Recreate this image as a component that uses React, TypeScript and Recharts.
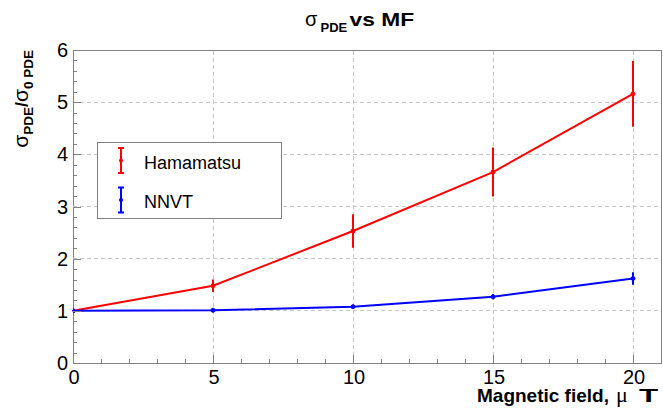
import React from 'react';
import {
  ComposedChart,
  Line,
  XAxis,
  YAxis,
  ErrorBar,
  ReferenceLine,
  ReferenceArea,
  Legend,
} from 'recharts';

// ---- data ----
const fields = [0, 5, 10, 15, 20];
const hamamatsu = [1.0, 1.48, 2.53, 3.66, 5.16];
const hamamatsuErr = [0.01, 0.12, 0.32, 0.47, 0.63];
const nnvt = [1.0, 1.01, 1.08, 1.27, 1.62];
const nnvtErr = [0.01, 0.02, 0.02, 0.05, 0.12];

// ---- ticks ----
const xMajorTicks = [0, 5, 10, 15, 20];
const yMajorTicks = [0, 1, 2, 3, 4, 5, 6];
const xMinorTicks = Array.from({ length: 22 }, (_, i) => i);
const yMinorTicks = Array.from({ length: 31 }, (_, i) => i / 5);
const xGrid = [5, 10, 15, 20];
const yGrid = [1, 2, 3, 4, 5];

const data = fields.map((x, i) => ({
  x,
  ham: hamamatsu[i],
  hamErr: hamamatsuErr[i],
  nnvt: nnvt[i],
  nnvtErr: nnvtErr[i],
}));

const FONT = '"Liberation Sans", Arial, Helvetica, sans-serif';
const SERIF = '"Liberation Serif", "Times New Roman", serif';
const AXIS = '#808080';
const GRID = '#c8c8c8';
const RED = '#ff0000';
const BLUE = '#0000ff';

const isMajor = (v: number, majors: number[]) =>
  majors.some((m) => Math.abs(m - v) < 1e-9);

const XTick = (props: any) => {
  const { x, y, payload } = props;
  const v = payload.value;
  const major = isMajor(v, xMajorTicks);
  const px = Math.round(x) + 0.5;
  return (
    <g>
      <line
        x1={px}
        x2={px}
        y1={y}
        y2={y - (major ? 8 : 4)}
        stroke={AXIS}
        strokeWidth={1}
        shapeRendering="crispEdges"
      />
      {major && (
        <text x={x + 1} y={y + 21} textAnchor="middle" fontSize={20} fill="#000" fontFamily={FONT}>
          {v}
        </text>
      )}
    </g>
  );
};

const YTick = (props: any) => {
  const { x, y, payload } = props;
  const v = payload.value;
  const major = isMajor(v, yMajorTicks);
  const py = Math.round(y) + 0.5;
  return (
    <g>
      <line
        x1={x}
        x2={x + (major ? 8 : 4)}
        y1={py}
        y2={py}
        stroke={AXIS}
        strokeWidth={1}
        shapeRendering="crispEdges"
      />
      {major && (
        <text x={x - 5} y={y + 7} textAnchor="end" fontSize={20} fill="#000" fontFamily={FONT}>
          {Math.round(v)}
        </text>
      )}
    </g>
  );
};

const renderLegend = (props: any) => {
  const payload = props.payload || [];
  return (
    <svg width={185} height={77} style={{ display: 'block' }}>
      <rect
        x={0.5}
        y={0.5}
        width={184}
        height={76}
        fill="#fff"
        stroke={AXIS}
        strokeWidth={1}
        shapeRendering="crispEdges"
      />
      {payload.map((entry: any, i: number) => {
        const cy = 18.5 + i * 39.5;
        const c = entry.color;
        return (
          <g key={i}>
            <line x1={24} x2={24} y1={cy - 12.5} y2={cy + 12.5} stroke={c} strokeWidth={2} />
            <line x1={21} x2={27} y1={cy - 12.5} y2={cy - 12.5} stroke={c} strokeWidth={2} />
            <line x1={21} x2={27} y1={cy + 12.5} y2={cy + 12.5} stroke={c} strokeWidth={2} />
            <circle cx={24} cy={cy} r={2} fill={c} />
            <text x={47} y={cy + 8} fontSize={18} fill="#000" fontFamily={FONT}>
              {entry.value}
            </text>
          </g>
        );
      })}
    </svg>
  );
};

export default function App() {
  return (
    <div style={{ position: 'absolute', left: 0, top: 0, width: 663, height: 412, background: '#fff' }}>
      <ComposedChart
        width={663}
        height={412}
        data={data}
        margin={{ top: 50, right: 2, left: 0, bottom: 0 }}
      >
        <XAxis
          type="number"
          dataKey="x"
          domain={[0, 21]}
          ticks={xMinorTicks}
          interval={0}
          tickSize={0}
          tickMargin={0}
          axisLine={false}
          tickLine={false}
          tick={<XTick />}
          height={49}
          allowDataOverflow
        />
        <YAxis
          type="number"
          domain={[0, 6]}
          ticks={yMinorTicks}
          interval={0}
          tickSize={0}
          tickMargin={0}
          axisLine={false}
          tickLine={false}
          tick={<YTick />}
          width={73}
          allowDataOverflow
        />
        {xGrid.map((g) => (
          <ReferenceLine key={'gx' + g} x={g} stroke={GRID} strokeDasharray="4 3" shapeRendering="crispEdges" />
        ))}
        {yGrid.map((g) => (
          <ReferenceLine key={'gy' + g} y={g} stroke={GRID} strokeDasharray="4 3" shapeRendering="crispEdges" />
        ))}
        <ReferenceArea
          x1={0}
          x2={21}
          y1={0}
          y2={6}
          fill="none"
          fillOpacity={0}
          stroke={AXIS}
          strokeWidth={1}
          shapeRendering="crispEdges"
        />
        <Legend
          layout="vertical"
          align="center"
          verticalAlign="middle"
          wrapperStyle={{ left: 97, top: 142, width: 185, height: 77 }}
          content={renderLegend}
        />
        <Line
          type="linear"
          dataKey="ham"
          name="Hamamatsu"
          stroke={RED}
          strokeWidth={2}
          dot={{ r: 2, fill: RED, stroke: RED, strokeWidth: 1 }}
          isAnimationActive={false}
        >
          <ErrorBar dataKey="hamErr" width={0} stroke={RED} strokeWidth={2} direction="y" isAnimationActive={false} />
        </Line>
        <Line
          type="linear"
          dataKey="nnvt"
          name="NNVT"
          stroke={BLUE}
          strokeWidth={2}
          dot={{ r: 2, fill: BLUE, stroke: BLUE, strokeWidth: 1 }}
          isAnimationActive={false}
        >
          <ErrorBar dataKey="nnvtErr" width={0} stroke={BLUE} strokeWidth={2} direction="y" isAnimationActive={false} />
        </Line>
      </ComposedChart>
      <svg
        width={663}
        height={412}
        style={{ position: 'absolute', left: 0, top: 0, pointerEvents: 'none' }}
      >
        {/* title */}
        <text x={305} y={25.7} fontFamily={FONT} fill="#000" fontSize={20}>σ</text>
        <text x={320.5} y={31.6} fontFamily={FONT} fill="#000" fontSize={13} fontWeight="bold">PDE</text>
        <text
          transform="translate(349.5,25.7) scale(1.2,1)"
          x={0}
          y={0}
          fontFamily={FONT}
          fill="#000"
          fontSize={19}
          fontWeight="bold"
        >
          vs MF
        </text>
        {/* y axis title */}
        <text transform="translate(28,50) rotate(-90)" textAnchor="end" fontFamily={FONT} fill="#000">
          <tspan fontSize={21}>σ</tspan>
          <tspan fontSize={13.5} fontWeight="bold" dy={5}>PDE</tspan>
          <tspan fontSize={18} fontWeight="bold" dy={-5}>/</tspan>
          <tspan fontSize={21}>σ</tspan>
          <tspan fontSize={13.5} fontWeight="bold" dy={5}>0 PDE</tspan>
        </text>
        {/* x axis title */}
        <text x={477} y={402} fontFamily={FONT} fill="#000" fontSize={19} fontWeight="bold">
          Magnetic field,
        </text>
        <text x={616} y={402} fontFamily={SERIF} fill="#000" fontSize={22}>μ</text>
        <text
          transform="translate(639,402) scale(1.65,1)"
          x={0}
          y={0}
          fontFamily={FONT}
          fill="#000"
          fontSize={19}
          fontWeight="bold"
        >
          T
        </text>
      </svg>
    </div>
  );
}
